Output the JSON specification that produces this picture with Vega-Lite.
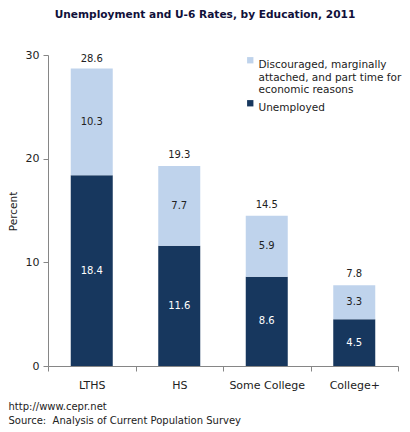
{
  "$schema": "https://vega.github.io/schema/vega-lite/v6.json",
  "width": 350,
  "height": 311,
  "autosize": "none",
  "padding": {"left": 48, "top": 55, "right": 12, "bottom": 66},
  "background": "white",
  "config": {
    "font": "DejaVu Sans",
    "view": {"stroke": null},
    "axis": {"labelFont": "DejaVu Sans", "titleFont": "DejaVu Sans", "domainColor": "#868686", "tickColor": "#868686", "labelColor": "#222", "titleColor": "#222", "grid": false}
  },
  "title": {"text": "Unemployment and U-6 Rates, by Education, 2011", "font": "DejaVu Sans", "fontSize": 10.6, "fontWeight": "bold", "color": "#10103a", "anchor": "middle", "dx": -18, "offset": 28},
  "datasets": {
    "segments": [
      {"edu": "LTHS", "type": "Unemployed", "value": 18.4},
      {"edu": "LTHS", "type": "Discouraged, marginally attached, and part time for economic reasons", "value": 10.3},
      {"edu": "HS", "type": "Unemployed", "value": 11.6},
      {"edu": "HS", "type": "Discouraged, marginally attached, and part time for economic reasons", "value": 7.7},
      {"edu": "Some College", "type": "Unemployed", "value": 8.6},
      {"edu": "Some College", "type": "Discouraged, marginally attached, and part time for economic reasons", "value": 5.9},
      {"edu": "College+", "type": "Unemployed", "value": 4.5},
      {"edu": "College+", "type": "Discouraged, marginally attached, and part time for economic reasons", "value": 3.3}
    ],
    "totals": [
      {"edu": "LTHS", "total": 28.6},
      {"edu": "HS", "total": 19.3},
      {"edu": "Some College", "total": 14.5},
      {"edu": "College+", "total": 7.8}
    ]
  },
  "layer": [
    {
      "data": {"name": "segments"},
      "transform": [
        {"stack": "value", "groupby": ["edu"], "sort": [{"field": "type", "order": "descending"}], "as": ["y0", "y1"]},
        {"calculate": "(datum.y0 + datum.y1) / 2", "as": "mid"}
      ],
      "layer": [
        {
          "mark": {"type": "bar", "size": 42},
          "encoding": {
            "x": {"field": "edu", "type": "nominal", "sort": ["LTHS", "HS", "Some College", "College+"],
                  "scale": {"paddingInner": 0, "paddingOuter": 0},
                  "axis": {"labelAngle": 0, "labelFontSize": 11, "labelPadding": 8, "tickBand": "extent", "tickSize": 5,
                           "title": ["http://www.cepr.net", "Source:\u00a0\u00a0Analysis of Current Population Survey"],
                           "titleFontSize": 10, "titleFontWeight": "normal", "titleAnchor": "start", "titleAlign": "left",
                           "titleBaseline": "top", "titleX": -40, "titleY": 35, "titleLineHeight": 14}},
            "y": {"field": "y1", "type": "quantitative", "scale": {"domain": [0, 30]},
                  "axis": {"values": [0, 10, 20, 30], "title": "Percent", "titleFontSize": 10.5, "titleFontWeight": "normal",
                           "labelFontSize": 11, "tickSize": 5, "labelPadding": 4, "titleX": -30, "titleY": 156}},
            "y2": {"field": "y0"},
            "color": {"field": "type", "type": "nominal",
                      "scale": {"domain": ["Discouraged, marginally attached, and part time for economic reasons", "Unemployed"], "range": ["#BFD3EC", "#17375E"]},
                      "legend": {"title": null, "orient": "none", "legendX": 197, "legendY": 0, "symbolType": "square", "symbolSize": 40,
                                 "labelFontSize": 10.5, "labelFont": "DejaVu Sans", "labelColor": "#222", "labelLimit": 0, "labelBaseline": "top", "labelOffset": 3,
                                 "rowPadding": 2,
                                 "labelExpr": "datum.label == 'Unemployed' ? 'Unemployed' : ['Discouraged, marginally', 'attached, and part time for', 'economic reasons']"}}
          }
        },
        {
          "mark": {"type": "text", "fontSize": 10, "baseline": "middle"},
          "encoding": {
            "x": {"field": "edu", "type": "nominal", "sort": ["LTHS", "HS", "Some College", "College+"]},
            "y": {"field": "mid", "type": "quantitative"},
            "text": {"field": "value", "type": "quantitative", "format": ".1f"},
            "color": {"condition": {"test": "datum.type == 'Unemployed'", "value": "white"}, "value": "#222"}
          }
        }
      ]
    },
    {
      "data": {"name": "totals"},
      "mark": {"type": "text", "fontSize": 10, "baseline": "bottom", "dy": -6, "color": "#222"},
      "encoding": {
        "x": {"field": "edu", "type": "nominal", "sort": ["LTHS", "HS", "Some College", "College+"]},
        "y": {"field": "total", "type": "quantitative"},
        "text": {"field": "total", "type": "quantitative", "format": ".1f"}
      }
    }
  ]
}
